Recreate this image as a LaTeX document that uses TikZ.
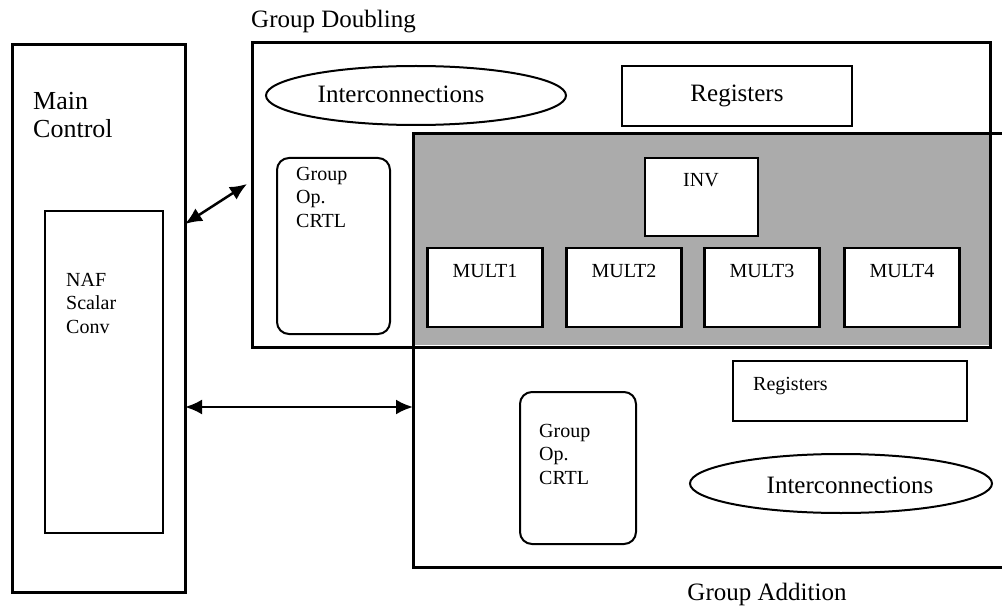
\documentclass[tikz,border=0pt]{standalone}
\usepackage{fontspec}
\setmainfont{Liberation Serif}
\usetikzlibrary{arrows.meta,shapes.geometric}

\begin{document}
\begin{tikzpicture}[x=1pt,y=-1pt,
    outer/.style={draw,line width=3pt,inner sep=0pt,outer sep=0pt},
    inner/.style={draw,line width=2pt,inner sep=0pt,outer sep=0pt},
    blk/.style={inner,fill=white,line width=2.5pt},
    rbox/.style={inner,rounded corners=12pt},
    oval/.style={inner,ellipse},
    big/.style={font=\fontsize{25}{28}\selectfont},
    small/.style={font=\fontsize{20}{23.5}\selectfont,inner sep=0pt,align=left},
    link/.style={line width=2.5pt,{Latex[length=17pt,width=15pt]}-{Latex[length=17pt,width=15pt]}}]
    \clip (0,0) rectangle (1002,607);

    % Draw shared area
    \fill[black!33] (413,134) rectangle (990,345);

    % Draw main control
    \node[outer,minimum width=173,minimum height=547] (main) at (98.5,318.5) {};
    \node[big,anchor=north west,inner sep=0pt,align=left,font=\fontsize{26}{28}\selectfont] (maintxt) at (33,92) {Main\\Control};
    \node[inner,minimum width=118,minimum height=322] (naf) at (104,372) {};
    \node[small,anchor=north west] (naftxt) at (66,273) {NAF\\Scalar\\Conv};

    % Draw group doubling
    \node[outer,minimum width=738,minimum height=304] (dbl) at (621,195) {};
    \node[big,anchor=base west,inner sep=0pt] (dbltxt) at (251,28) {Group Doubling};
    \node[oval,minimum width=300,minimum height=59] (icA) at (416,95.5) {};
    \node[big,anchor=base,inner sep=0pt] (icAtxt) at (401,103) {Interconnections};
    \node[inner,big,minimum width=230,minimum height=60] (regA) at (737,96) {Registers};
    \node[rbox,minimum width=113,minimum height=176] (crtlA) at (333.5,246) {};
    \node[small,anchor=north west] (crtlAtxt) at (296,167) {Group\\Op.\\CRTL};

    % Draw group addition
    \node[outer,minimum width=602,minimum height=433] (add) at (714,350.5) {};
    \node[big,anchor=base,inner sep=0pt] (addtxt) at (767,600) {Group Addition};
    \node[inner,minimum width=234,minimum height=60] (regB) at (850,391) {};
    \node[small,anchor=base west] (regBtxt) at (753,390) {Registers};
    \node[rbox,minimum width=116,minimum height=152] (crtlB) at (578,468) {};
    \node[small,anchor=north west] (crtlBtxt) at (539,424) {Group\\Op.\\CRTL};
    \node[oval,minimum width=302,minimum height=59] (icB) at (841,483.5) {};
    \node[big,anchor=base,inner sep=0pt] (icBtxt) at (850,493) {Interconnections};

    % Draw shared units
    \node[blk,minimum width=113,minimum height=78] (inv) at (701.5,197) {};
    \node[small,anchor=base] (invtxt) at (701,187) {INV};
    \foreach \i/\x in {1/485,2/624,3/762,4/902} {
        \node[blk,minimum width=115,minimum height=79] (mult\i) at (\x,287.5) {};
        \node[small,anchor=base] (mult\i txt) at (\x,277) {MULT\i};
    }

    % Draw links
    \coordinate (pA) at (186,224);
    \coordinate (pB) at (247,184);
    \coordinate (pC) at (300,407);
    \draw[link] (main.east |- pA) -- (pB);
    \draw[link] (main.east |- pC) -- (add.west |- pC);
\end{tikzpicture}
\end{document}
